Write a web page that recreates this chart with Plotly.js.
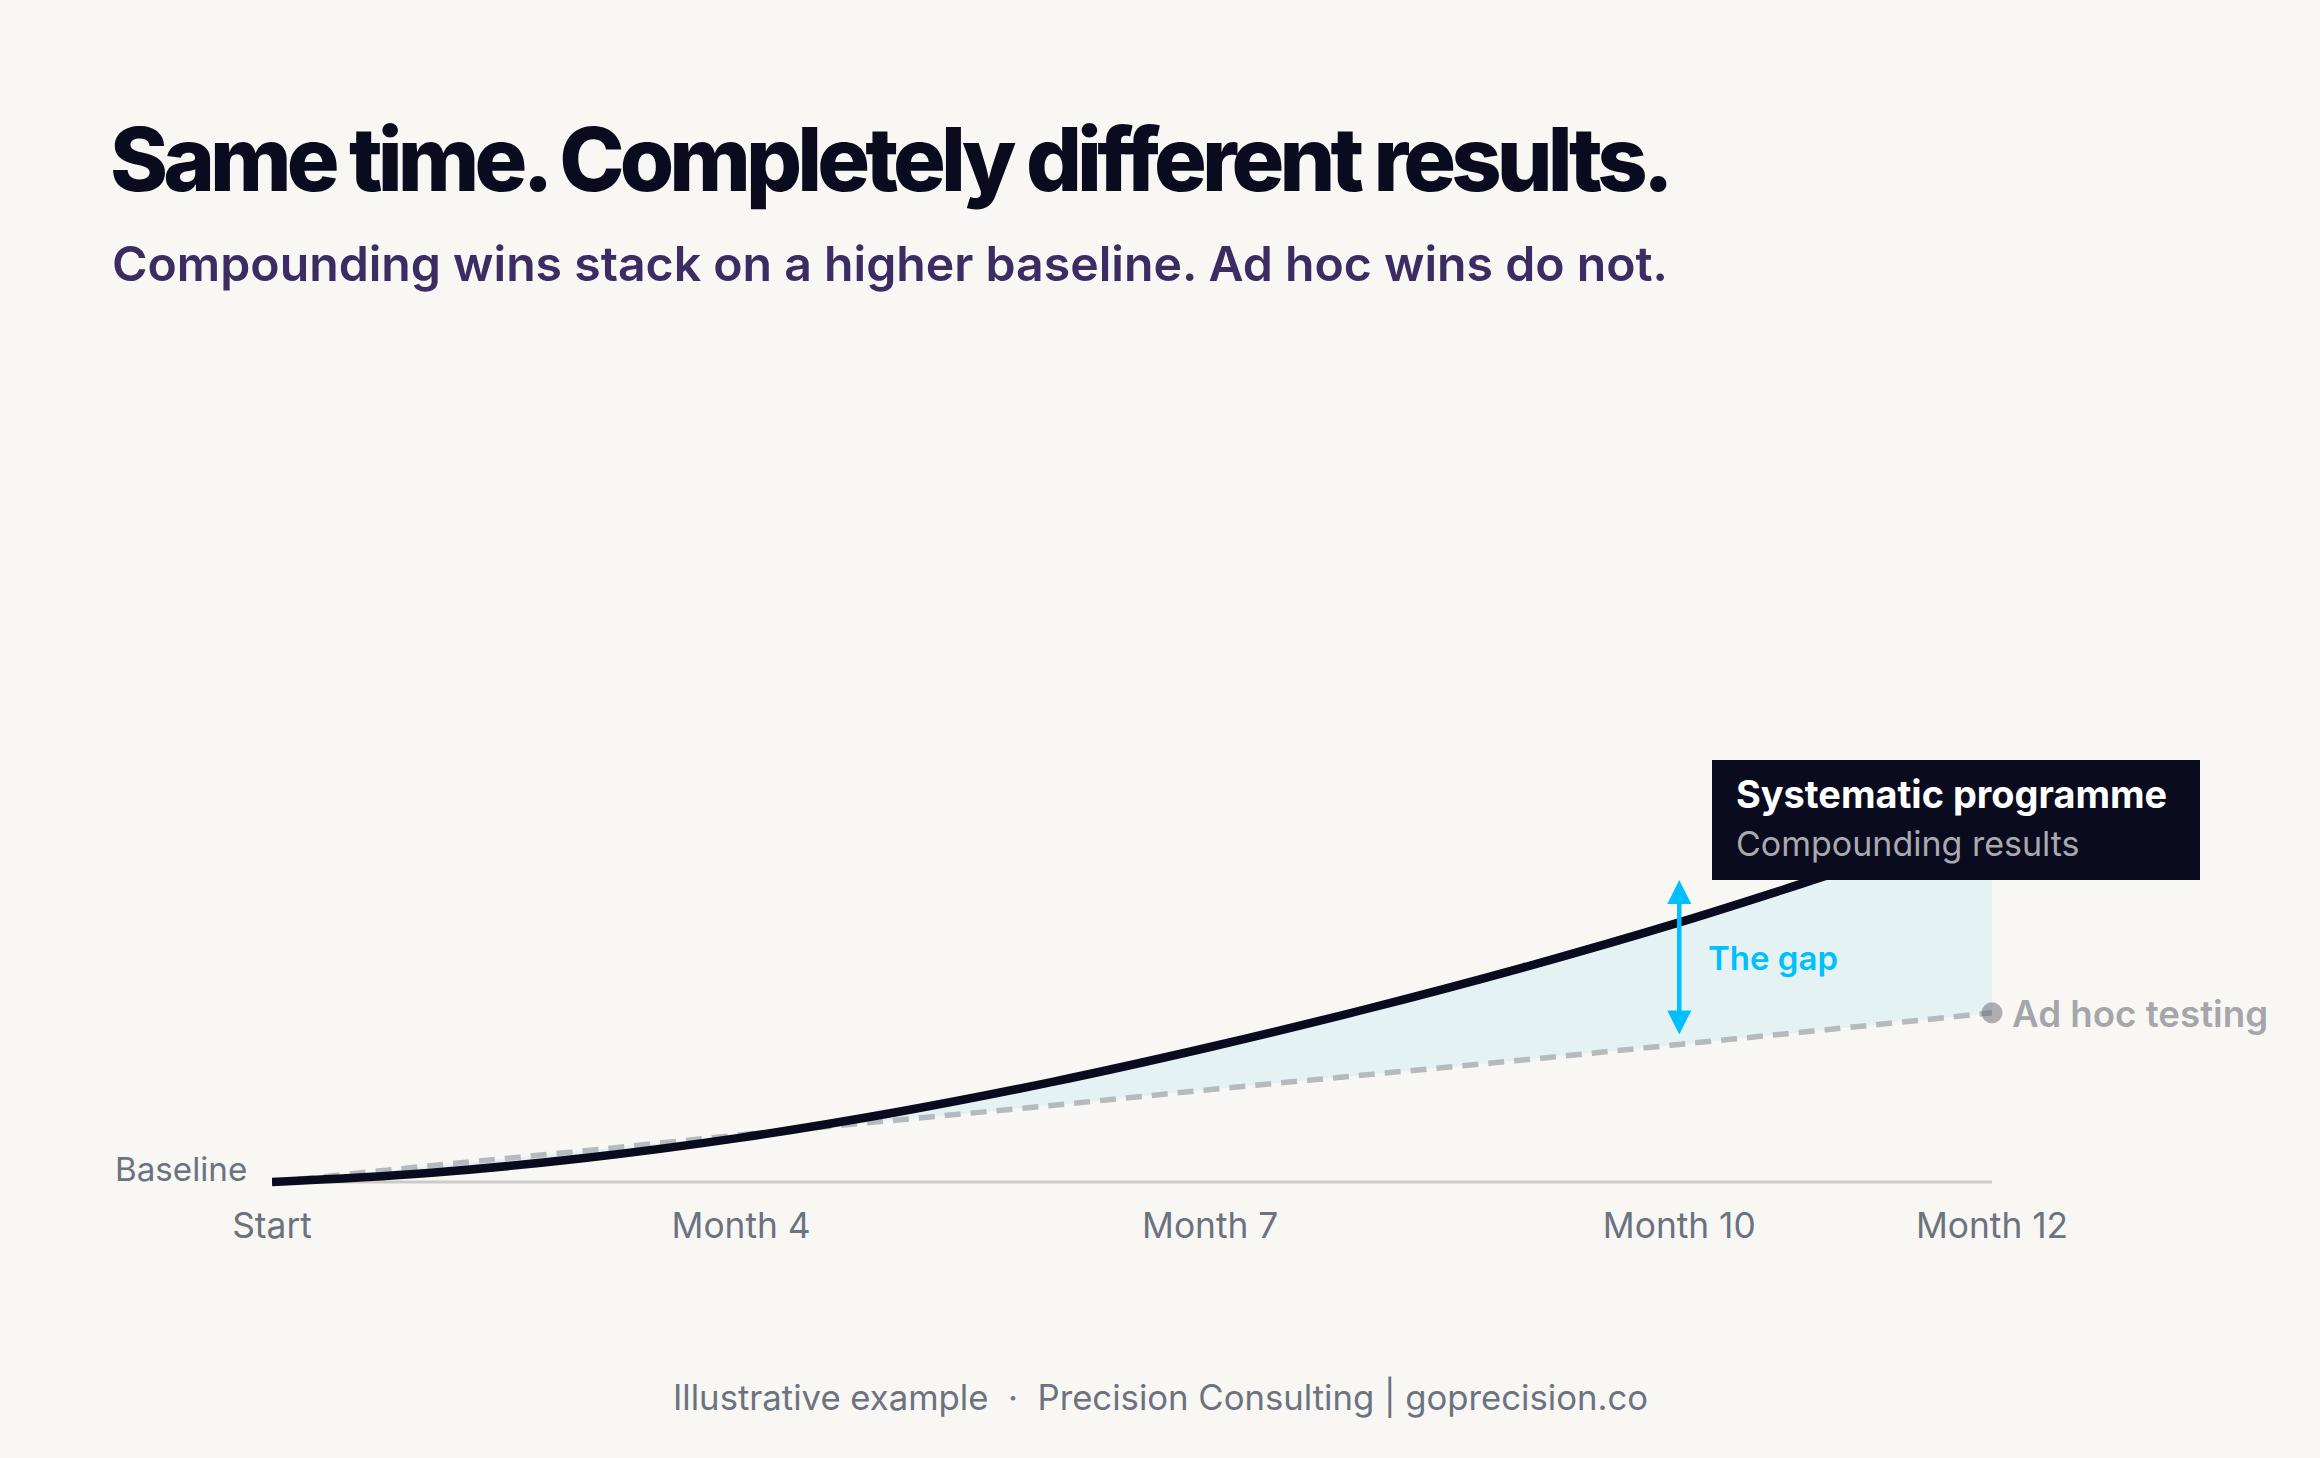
<!DOCTYPE html>
<html><head><meta charset="utf-8">
<script src="https://cdn.plot.ly/plotly-3.0.1.min.js"></script>
<style>
html,body{margin:0;padding:0;background:#F9F7F3}
.gtitle{letter-spacing:-4.9px}
</style></head><body><div id="chart" style="width:2320px;height:1458px"></div>
<script>
const months=[0,1,2,3,4,5,6,7,8,9,10,11];
const systematic=[100,102.25,106,111.1,117.5,125.1,133.75,143.25,153.6,164.9,177.3,190];
const adHoc=[100,104,107.8,111.8,115.5,119.2,123.1,126.8,130.5,134.4,138.3,142.3];
const tickPositions=[0,3,6,9,11];
const tickLabels=['Start','Month 4','Month 7','Month 10','Month 12'];
const gapMonth=9, gapTop=175.5, gapBottom=136.5;
const W=2320,H=1458,L=272,R=1992,T=300,B=1202;
const px=x=>(x-L)/(R-L), py=y=>(B-y)/(B-T);
const sans='Inter, sans-serif';
function note(text,x,y,size,color,xanchor,weight,family){
  return {text,xref:'paper',yref:'paper',x:px(x),y:py(y),xanchor:xanchor||'left',yanchor:'middle',showarrow:false,
    font:{family:family||sans,size,color,weight:weight||400}};
}
const traces=[
 {x:months,y:adHoc,mode:'lines',line:{color:'#B5BABF',width:5.5,dash:'16px,10px',shape:'spline',smoothing:1},cliponaxis:false,hoverinfo:'skip'},
 {x:months,y:systematic,mode:'lines',line:{color:'#0A0B1E',width:8.5,shape:'spline',smoothing:1},fill:'tonexty',fillcolor:'#E5F2F3',cliponaxis:false,hoverinfo:'skip'},
 {x:[months[11]],y:[adHoc[11]],mode:'markers',marker:{size:21,color:'rgba(100,100,110,0.5)'},cliponaxis:false,hoverinfo:'skip'}
];
const layout={
 width:W,height:H,paper_bgcolor:'#F9F7F3',plot_bgcolor:'rgba(0,0,0,0)',showlegend:false,
 margin:{l:L,r:W-R,t:T,b:H-B,pad:0},
 title:{text:'Same time. Completely different results.',xref:'container',yref:'container',x:110/W,xanchor:'left',y:1-160/H,yanchor:'middle',
   font:{family:sans,size:88,color:'#0A0B1E',weight:800}},
 xaxis:{range:[0,11],tickmode:'array',tickvals:tickPositions,ticktext:tickLabels,showgrid:false,zeroline:false,showline:false,ticks:'',
   tickfont:{family:sans,size:35.3,color:'#6B7280'},ticklabelstandoff:0,fixedrange:true},
 yaxis:{range:[95,320.5],visible:false,fixedrange:true},
 shapes:[
  {type:'line',xref:'x',yref:'y',x0:0,x1:11,y0:100,y1:100,layer:'below',line:{color:'#CCCBC8',width:3}},
  {type:'rect',xref:'paper',yref:'paper',x0:px(1712),x1:px(2200),y0:py(880),y1:py(760),layer:'above',fillcolor:'#0A0B1E',line:{width:0}}
 ],
 annotations:[
  note('Compounding wins stack on a higher baseline. Ad hoc wins do not.',110,263,48.2,'#3D2C63','left',600),
  note('Baseline',249,1169,33.2,'#6B7280','right'),
  note('Systematic programme',1734,794,37.9,'#FFFFFF','left',700),
  note('Compounding results',1734,844,34,'#A9A9AE','left'),
  note('The gap',1706,958,33,'#00BFFF','left',600),
  note('Ad hoc testing',2010,1013,36.7,'#A5A6AB','left',600),
  note('Illustrative example  ·  Precision Consulting | goprecision.co',1160,1397,34.7,'#6B7280','center'),
  {x:gapMonth,y:gapTop,ax:gapMonth,ay:gapBottom,xref:'x',yref:'y',axref:'x',ayref:'y',text:'',showarrow:true,
   arrowside:'end+start',arrowhead:2,startarrowhead:2,arrowsize:1.07,startarrowsize:1.07,arrowwidth:4.5,arrowcolor:'#00BFFF'}
 ]
};
Plotly.newPlot('chart',traces,layout,{displayModeBar:false,staticPlot:true});
</script></body></html>
